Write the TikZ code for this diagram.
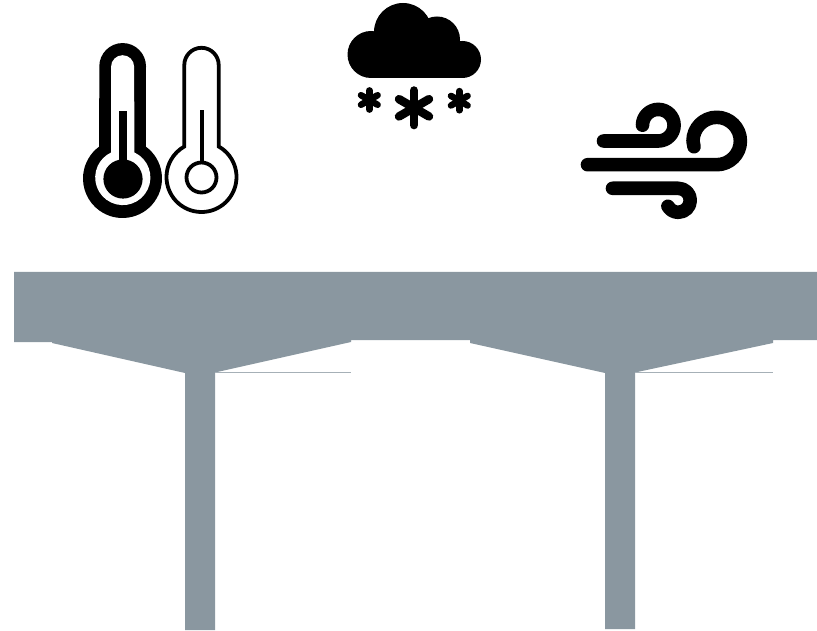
\documentclass[tikz,border=0pt]{standalone}
\definecolor{bridge}{HTML}{8A97A0}
\definecolor{edgeline}{HTML}{A6B0B7}
\tikzset{
  girder/.style={fill=bridge,draw=none},
  thinedge/.style={draw=edgeline,line width=0.9pt},
  ink/.style={fill=black,draw=none},
  windline/.style={draw=black,line width=13.6pt,line cap=round,line join=round},
  flake/.style={draw=black,line cap=round},
}
\begin{document}
\begin{tikzpicture}[x=1pt,y=-1pt]
\useasboundingbox (0,0) rectangle (817,631);
% bridge
\fill[girder] (14,272) -- (817,272) -- (817,340) -- (773,340) -- (773,343) -- (635,372.5) -- (635,629)
  -- (605,629) -- (605,373) -- (470,343) -- (470,340) -- (351,340) -- (351,342) -- (215,372.5)
  -- (215,630) -- (185,630) -- (185,373) -- (52,343) -- (52,342) -- (14,342) -- cycle;
\draw[thinedge] (215,372.5) -- (351,372.5);
\draw[thinedge] (635,372.5) -- (773,372.5);
% thick thermometer
\fill[ink] ([shift={(122.5,178.5)}]-53.8:39.5) arc[start angle=-53.8,end angle=233.8,radius=39.5]
  -- (99.3,66.4) arc[start angle=180,end angle=360,radius=23.35] -- cycle;
\fill[white] ([shift={(122.8,177.5)}]-65:27.6) arc[start angle=-65,end angle=245,radius=27.6]
  -- (111.1,66.7) arc[start angle=180,end angle=360,radius=11.5] -- cycle;
\fill[ink] (123,179) circle[radius=19.6];
\fill[ink] (118.7,111) rectangle (126.7,165);
% thin thermometer
\draw[black,line width=3.8pt] ([shift={(201.5,177)}]-60.6:35) arc[start angle=-60.6,end angle=240.6,radius=35]
  -- (184.3,65) arc[start angle=180,end angle=360,radius=17.2] -- cycle;
\draw[black,line width=3.8pt] (201.5,177.5) circle[radius=15];
\fill[ink] (199.5,110) rectangle (203.5,163);
% cloud
\fill[ink] (371,54.5) circle[radius=23.5];
\fill[ink] (462.5,59.5) circle[radius=18.5];
\fill[ink] (403,32) circle[radius=29];
\fill[ink] (437,39.5) circle[radius=23];
\fill[ink] (371,45) rectangle (462.5,78);
% snowflakes
\foreach \cx/\cy/\r/\w in {414/107.8/17.3/8.5, 369.3/100/9.6/6.5, 459.3/100.7/9.6/6.5}{
  \foreach \a in {90,-30,30}{
    \draw[flake,line width=\w pt] ([shift={(\cx,\cy)}]\a:\r) -- ([shift={(\cx,\cy)}]\a+180:\r);
  }
}
% wind
\draw[windline] (603.5,141) -- (658.3,141) arc[start angle=90,end angle=-180,radius=15.8];
\draw[windline] (587.5,164.7) -- (716.7,164.7) arc[start angle=90,end angle=-180,radius=23.7] -- (694,146.7);
\draw[windline] (612.5,188.3) -- (678.3,188.3) arc[start angle=-90,end angle=150,radius=12];
\end{tikzpicture}
\end{document}
